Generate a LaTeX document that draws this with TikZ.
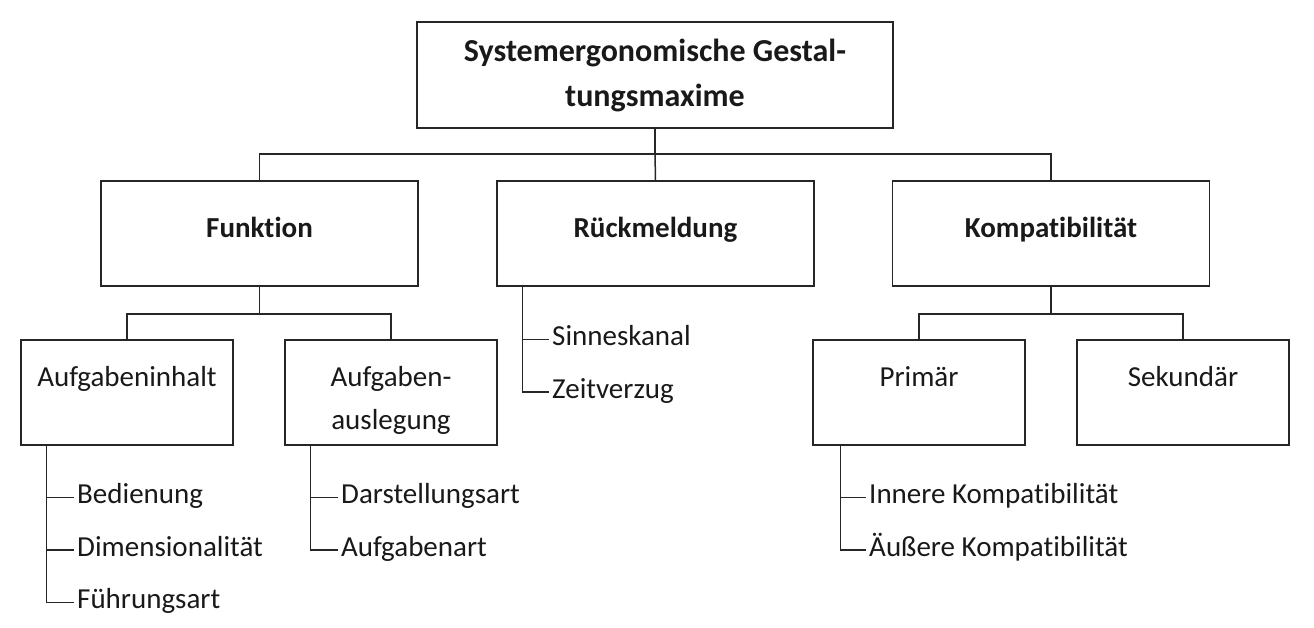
\documentclass[tikz,border=0pt]{standalone}
\usepackage{fontspec}
\setmainfont[Ligatures=NoCommon]{Carlito}
\usepackage{tikz}
\usetikzlibrary{positioning, calc}

\tikzset{
	box/.style={draw=black!85, line width=1.5pt, inner sep=0pt},
	topbox/.style={box, minimum width=476pt, minimum height=106pt, align=center, font=\fontsize{32}{45}\selectfont\bfseries},
	secbox/.style={box, minimum width=317pt, minimum height=105pt, text height=21pt, text depth=12pt, font=\fontsize{29}{43}\selectfont\bfseries},
	subbox/.style={box, minimum width=212pt, minimum height=105pt},
	sublbl/.style={anchor=north, yshift=-27pt, inner sep=0pt, align=center},
	leaf/.style={anchor=west, inner xsep=3pt, inner ysep=0pt, text height=19pt, text depth=7pt},
	conn/.style={draw=black!85, line width=1.5pt}
}

\begin{document}
\begin{tikzpicture}[x=1pt, y=-1pt, font=\fontsize{29}{43}\selectfont, text=black!90]
	\useasboundingbox (0,0) rectangle (1314,628);
	% top level
	\node [topbox] (top) at (655,75) {Systemergonomische Gestal-\\tungsmaxime};
	\node [secbox] (funktion) at (259.5,233.5) {Funktion};
	\node [secbox] (rueck) at (655.5,233.5) {Rückmeldung};
	\node [secbox] (kompat) at (1051,233.5) {Kompatibilität};
	\coordinate (bus) at (655,154);
	\draw [conn] (top.south) -- (bus);
	\draw [conn] (bus) -- (rueck.north);
	\draw [conn] (funktion.north) |- (bus) -| (kompat.north);
	% second level
	\node [subbox, label={[sublbl]north:Aufgabeninhalt}] (inhalt) at (127,392.5) {};
	\node [subbox, label={[sublbl]north:{Aufgaben-\\auslegung}}] (auslegung) at (391,392.5) {};
	\node [subbox, label={[sublbl]north:Primär}] (primaer) at (919,392.5) {};
	\node [subbox, label={[sublbl]north:Sekundär}] (sekundaer) at (1183,392.5) {};
	\coordinate (fbus) at ([yshift=-27pt]funktion.south);
	\coordinate (kbus) at ([yshift=-27pt]kompat.south);
	\draw [conn] (funktion.south) -- (fbus);
	\draw [conn] (inhalt.north) |- (fbus) -| (auslegung.north);
	\draw [conn] (kompat.south) -- (kbus);
	\draw [conn] (primaer.north) |- (kbus) -| (sekundaer.north);
	% leaves
	\coordinate (rstem) at ([xshift=26pt]rueck.south west);
	\coordinate (istem) at ([xshift=26pt]inhalt.south west);
	\coordinate (astem) at ([xshift=26pt]auslegung.south west);
	\coordinate (pstem) at ([xshift=28pt]primaer.south west);
	\foreach \txt [count=\i] in {Sinneskanal, Zeitverzug}
		{\node [leaf] (r\i) at (549,287+52.5*\i) {\txt};
		 \draw [conn] (rstem) |- (r\i.west);}
	\foreach \txt [count=\i] in {Bedienung, Dimensionalität, Führungsart}
		{\node [leaf] (i\i) at (74,445+52.5*\i) {\txt};
		 \draw [conn] (istem) |- (i\i.west);}
	\foreach \txt [count=\i] in {Darstellungsart, Aufgabenart}
		{\node [leaf] (a\i) at (338,445+52.5*\i) {\txt};
		 \draw [conn] (astem) |- (a\i.west);}
	\foreach \txt [count=\i] in {Innere Kompatibilität, Äußere Kompatibilität}
		{\node [leaf] (p\i) at (866,445+52.5*\i) {\txt};
		 \draw [conn] (pstem) |- (p\i.west);}
\end{tikzpicture}
\end{document}
